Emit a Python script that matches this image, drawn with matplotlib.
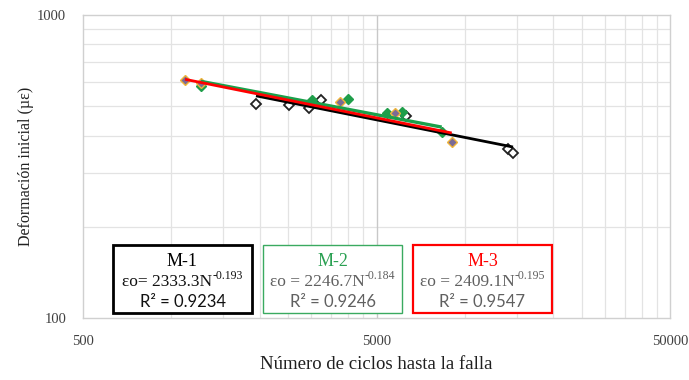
import matplotlib
matplotlib.use("Agg")
import matplotlib.pyplot as plt
import numpy as np
from matplotlib.patches import Rectangle
from matplotlib.transforms import offset_copy

# ---- data ----
m1_N = [1943, 2517, 2944, 3236, 6300, 14025, 14590]
m1_e = [508, 505, 493, 524, 464, 361, 350]
m2_N = [1262, 3008, 4000, 5416, 6107, 8341]
m2_e = [583, 524, 528, 475, 480, 411]
m3_N = [1113, 1262, 3754, 5780, 9022]
m3_e = [610, 597, 516, 475, 382]

series_names = ["M-1", "M-2", "M-3"]
coef_a = [2333.3, 2246.7, 2409.1]
coef_b = [-0.193, -0.184, -0.195]
r2_vals = ["0.9234", "0.9246", "0.9547"]

x_ticks = [500, 5000, 50000]
y_ticks = [100, 1000]

# ---- figure ----
fig = plt.figure(figsize=(6.89, 3.8), dpi=100)
ax = fig.add_axes([83/689, 1 - 318/380, 587/689, 303/380])
ax.set_xscale('log')
ax.set_yscale('log')
ax.set_xlim(500, 50000)
ax.set_ylim(100, 1000)

# grid
minor_x = [x_ticks[0] * k for k in range(2, 10)] + [x_ticks[1] * k for k in range(2, 10)]
minor_y = [100 * k for k in range(2, 10)]
for v in minor_x:
    ax.axvline(v, color='#e3e3e3', lw=0.9, zorder=0)
for v in minor_y:
    ax.axhline(v, color='#e3e3e3', lw=0.9, zorder=0)
ax.axvline(x_ticks[1], color='#c8c8c8', lw=1.0, zorder=0)

for s in ax.spines.values():
    s.set_color('#d0d0d0')
    s.set_linewidth(1.0)

ax.set_xticks(x_ticks)
ax.set_xticklabels([str(v) for v in x_ticks])
ax.set_yticks(y_ticks)
ax.set_yticklabels([str(v) for v in y_ticks])
ax.xaxis.set_minor_locator(matplotlib.ticker.NullLocator())
ax.yaxis.set_minor_locator(matplotlib.ticker.NullLocator())
ax.tick_params(axis='x', length=0, labelsize=10.5, colors='#404040', pad=12)
ax.tick_params(axis='y', length=0, labelsize=10.5, colors='#404040', pad=12)
for lab in ax.get_xticklabels() + ax.get_yticklabels():
    lab.set_family('Liberation Serif')

ax.set_xlabel("Número de ciclos hasta la falla", family='Liberation Serif',
              fontsize=13.5, color='#202020', labelpad=6)
ax.set_ylabel("Deformación inicial (µε)", family='Liberation Serif',
              fontsize=11.5, color='#202020', labelpad=2)

# markers
ax.plot(m1_N, m1_e, 'D', ms=5.5, mfc='white', mec='#222222', mew=1.3, zorder=3)
ax.plot(m2_N, m2_e, 'D', ms=5.5, mfc='#1f9e4a', mec='#1f9e4a', mew=1.0, zorder=3)
ax.plot(m3_N, m3_e, 'D', ms=5.5, mfc='#7b6b96', mec='#f0b53a', mew=1.0, zorder=3)

# power trendlines
line_colors = ['#000000', '#1aa04a', '#ff0000']
line_widths = [2.0, 2.4, 2.0]
for Ns, a, b, c, lw, z in zip([m1_N, m2_N, m3_N], coef_a, coef_b, line_colors, line_widths, [4, 5, 6]):
    xx = np.geomspace(min(Ns), max(Ns), 50)
    ax.plot(xx, a * xx ** b, color=c, lw=lw, zorder=z, solid_capstyle='butt')

# equation boxes
box_x = [(113, 252), (263, 402), (413, 552)]
box_edge = ['#000000', '#3aaa60', '#ff0000']
box_lw = [2.0, 1.0, 1.6]
title_col = ['#000000', '#2aa052', '#ff0000']
body_col = ['#111111', '#606060', '#606060']
y_top, y_bot = 245, 313
renderer = fig.canvas.get_renderer()
for i in range(3):
    x0, x1 = box_x[i]
    ax0 = (x0 - 83) / 587
    ax1 = (x1 - 83) / 587
    ay0 = (318 - y_bot) / 303
    ay1 = (318 - y_top) / 303
    ax.add_patch(Rectangle((ax0, ay0), ax1 - ax0, ay1 - ay0, transform=ax.transAxes,
                           facecolor='white', edgecolor=box_edge[i], lw=box_lw[i], zorder=8))
    cx = (ax0 + ax1) / 2
    ax.text(cx, (318 - 261) / 303, series_names[i], transform=ax.transAxes, ha='center', va='center',
            family='Liberation Serif', fontsize=13, color=title_col[i], zorder=9)
    sep = "= " if i == 0 else " = "
    main = "εo" + sep + f"{coef_a[i]}N"
    sup = f"{coef_b[i]}"
    ey = (318 - 282) / 303
    t_main = ax.text(0, ey, main, transform=ax.transAxes, ha='left', va='center',
                     family='Liberation Serif', fontsize=12.5, color=body_col[i], zorder=9)
    t_sup = ax.text(0, ey, sup, transform=ax.transAxes, ha='left', va='center',
                    family='Liberation Serif', fontsize=8.5, color=body_col[i], zorder=9)
    w_main = t_main.get_window_extent(renderer).width
    w_sup = t_sup.get_window_extent(renderer).width
    total = w_main + w_sup
    axw = ax.get_window_extent(renderer).width
    start = cx - (total / 2) / axw
    t_main.set_x(start)
    t_sup.set_x(start + w_main / axw)
    t_sup.set_transform(offset_copy(ax.transAxes, fig=fig, x=0, y=4, units='points'))
    ax.text(cx, (318 - 302) / 303, "R² = " + r2_vals[i], transform=ax.transAxes, ha='center', va='center',
            family='Lato', fontsize=12, color=body_col[i], zorder=9)

fig.savefig("out.png", dpi=100)
